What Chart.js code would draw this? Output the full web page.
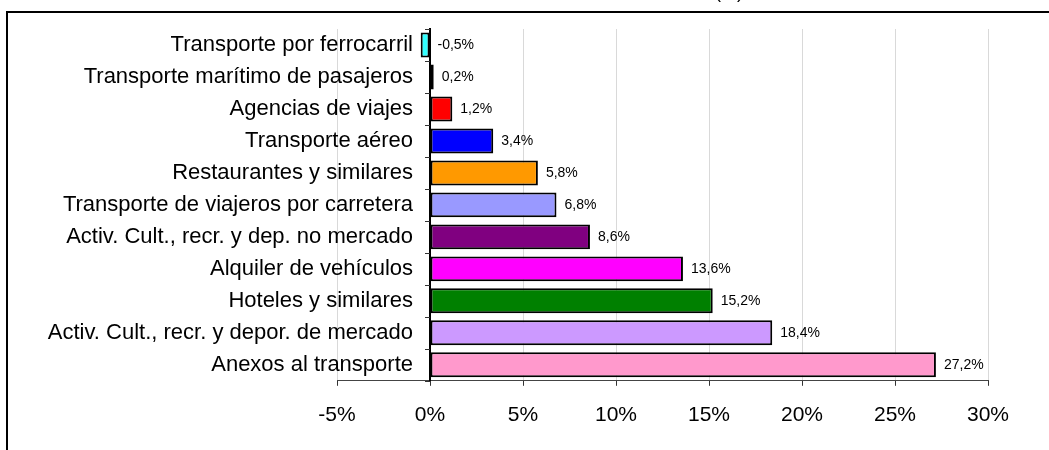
<!DOCTYPE html>
<html>
<head>
<meta charset="utf-8">
<script src="https://cdn.jsdelivr.net/npm/chart.js@4/dist/chart.umd.min.js"></script>
<style>
  html, body { margin: 0; padding: 0; background: #fff; }
  #wrap { position: relative; width: 1049px; height: 450px; overflow: hidden; }
  #marco { position: absolute; left: 6px; top: 11px; width: 1100px; height: 500px; border: 2px solid #000; box-sizing: border-box; pointer-events: none; }
  #titulo { position: absolute; left: 715px; top: -17px; font: 18px 'Liberation Sans', Arial, sans-serif; line-height: 18px; white-space: nowrap; }
</style>
</head>
<body>
<div id="wrap">
  <canvas id="grafico" width="1049" height="450"></canvas>
  <div id="titulo">(%)</div>
  <div id="marco"></div>
</div>
<script>
// ramas de actividad y variacion (%)
const ramas = [
  'Transporte por ferrocarril',
  'Transporte marítimo de pasajeros',
  'Agencias de viajes',
  'Transporte aéreo',
  'Restaurantes y similares',
  'Transporte de viajeros por carretera',
  'Activ. Cult., recr. y dep. no mercado',
  'Alquiler de vehículos',
  'Hoteles y similares',
  'Activ. Cult., recr. y depor. de mercado',
  'Anexos al transporte'
];
const valores = [-0.5, 0.2, 1.2, 3.4, 5.8, 6.8, 8.6, 13.6, 15.2, 18.4, 27.2];
const colores = [
  '#33ffff', '#000080', '#ff0000', '#0000ff', '#ff9900', '#9999ff',
  '#800080', '#ff00ff', '#008000', '#cc99ff', '#ff99cc'
];
const escalaMin = -5;
const escalaMax = 30;
const paso = 5;

Chart.defaults.font.family = "'Liberation Sans', Arial, sans-serif";
Chart.defaults.color = '#000';

// nombres de las ramas a la izquierda del eje del 0 y valores al final de cada barra
const etiquetas = {
  id: 'etiquetas',
  afterDatasetsDraw(chart) {
    const ctx = chart.ctx;
    const ejeX = chart.scales.x;
    const ejeY = chart.scales.y;
    const cero = ejeX.getPixelForValue(0);
    const meta = chart.getDatasetMeta(0);
    ctx.save();

    // marcas del eje de categorias
    ctx.strokeStyle = '#333';
    ctx.lineWidth = 1;
    ctx.beginPath();
    for (let i = 0; i <= ramas.length; i++) {
      let y;
      if (i === 0) y = chart.chartArea.top;
      else if (i === ramas.length) y = chart.chartArea.bottom;
      else y = (ejeY.getPixelForTick(i - 1) + ejeY.getPixelForTick(i)) / 2;
      y = Math.round(y) + 0.5;
      ctx.moveTo(cero - 5, y);
      ctx.lineTo(cero, y);
    }
    ctx.stroke();

    ctx.font = "22px 'Liberation Sans', Arial, sans-serif";
    ctx.fillStyle = '#000';
    ctx.textAlign = 'right';
    ctx.textBaseline = 'middle';
    ramas.forEach(function (r, i) {
      ctx.fillText(r, cero - 17, ejeY.getPixelForTick(i));
    });

    ctx.font = "14px 'Liberation Sans', Arial, sans-serif";
    ctx.textAlign = 'left';
    meta.data.forEach(function (bar, i) {
      const x = Math.max(bar.x, bar.base) + 8;
      ctx.fillText(valores[i].toFixed(1).replace('.', ',') + '%', x, bar.y);
    });
    ctx.restore();
  }
};

const ctx = document.getElementById('grafico').getContext('2d');
const grafico = new Chart(ctx, {
  type: 'bar',
  data: {
    labels: ramas,
    datasets: [{
      data: valores,
      backgroundColor: colores,
      borderColor: '#000',
      borderWidth: 2,
      borderSkipped: false,
      barPercentage: 0.78,
      categoryPercentage: 1
    }]
  },
  options: {
    indexAxis: 'y',
    responsive: false,
    animation: false,
    layout: {
      padding: { left: 337, right: 61, top: 29, bottom: 5 }
    },
    plugins: {
      legend: { display: false },
      tooltip: { enabled: false }
    },
    scales: {
      x: {
        type: 'linear',
        min: escalaMin,
        max: escalaMax,
        ticks: {
          stepSize: paso,
          padding: 17,
          font: { size: 21 },
          color: '#000',
          callback: function (v) { return v + '%'; }
        },
        grid: {
          color: '#d9d9d9',
          tickColor: '#333',
          tickLength: 5
        },
        border: { color: '#444', width: 1 }
      },
      y: {
        position: { x: 0 },
        offset: true,
        ticks: { display: false },
        grid: { display: false },
        border: { color: '#000', width: 2 }
      }
    }
  },
  plugins: [etiquetas]
});
</script>
</body>
</html>
